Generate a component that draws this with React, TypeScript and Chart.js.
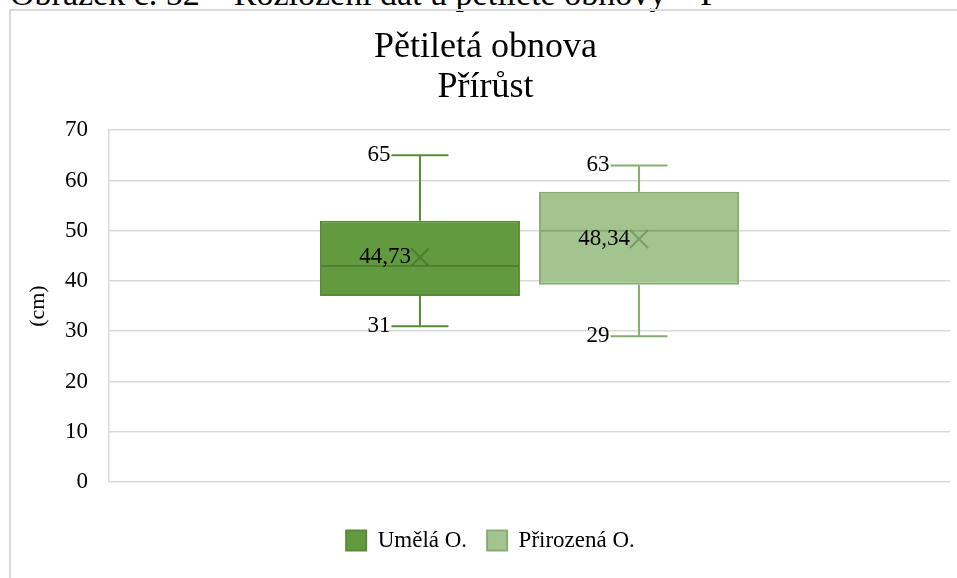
import React, { useEffect, useRef } from "react";
import { Chart, registerables } from "chart.js";

Chart.register(...registerables);

const headerText = "Obrázek č. 52 – Rozložení dat u pětileté obnovy – P";
const titleLines = ["Pětiletá obnova", "Přírůst"];
const categories = [""];
const seriesNames = ["Umělá O.", "Přirozená O."];
const mins = [31, 29];
const q1s = [37, 39.25];
const medians = [43, 50];
const q3s = [52, 57.75];
const maxs = [65, 63];
const means = [44.73, 48.34];
const meanLabels = ["44,73", "48,34"];
const minLabels = ["31", "29"];
const maxLabels = ["65", "63"];
const yAxisTitle = "(cm)";
const yMin = 0;
const yMax = 70;
const yStep = 10;

const fills = ["#629B3F", "#A3C48F"];
const borders = ["#588A38", "#88AD72"];
const medianColors = ["#4F7F33", "#86AB70"];
const meanColors = ["rgba(70,120,45,0.75)", "rgba(110,150,90,0.8)"];

const FONT = "'Liberation Serif', 'Times New Roman', serif";

const boxPlugin = {
  id: "boxExtras",
  afterLayout(chart: any) {
    const lg = chart.legend;
    if (lg) {
      lg.left += 5;
      lg.right += 5;
    }
  },
  afterDatasetsDraw(chart: any) {
    const ctx = chart.ctx;
    const y = chart.scales.y;
    ctx.save();
    chart.data.datasets.forEach((_ds: any, i: number) => {
      const meta = chart.getDatasetMeta(i);
      meta.data.forEach((bar: any) => {
        const cx = bar.x;
        const w = bar.width;
        const left = cx - w / 2;
        const right = cx + w / 2;
        const capHalf = 28.5;
        const yMaxP = y.getPixelForValue(maxs[i]);
        const yMinP = y.getPixelForValue(mins[i]);
        const yQ1 = y.getPixelForValue(q1s[i]);
        const yQ3 = y.getPixelForValue(q3s[i]);
        const yMed = y.getPixelForValue(medians[i]);
        const yMean = y.getPixelForValue(means[i]);
        ctx.strokeStyle = borders[i];
        ctx.lineWidth = 2;
        ctx.beginPath();
        ctx.moveTo(cx, yQ3);
        ctx.lineTo(cx, yMaxP);
        ctx.moveTo(cx - capHalf, yMaxP);
        ctx.lineTo(cx + capHalf, yMaxP);
        ctx.moveTo(cx, yQ1);
        ctx.lineTo(cx, yMinP);
        ctx.moveTo(cx - capHalf, yMinP);
        ctx.lineTo(cx + capHalf, yMinP);
        ctx.stroke();
        // median
        ctx.strokeStyle = medianColors[i];
        ctx.beginPath();
        ctx.moveTo(left + 1, yMed);
        ctx.lineTo(right - 1, yMed);
        ctx.stroke();
        // mean marker
        const m = 9;
        ctx.strokeStyle = meanColors[i];
        ctx.lineWidth = 2;
        ctx.beginPath();
        ctx.moveTo(cx - m, yMean - m);
        ctx.lineTo(cx + m, yMean + m);
        ctx.moveTo(cx - m, yMean + m);
        ctx.lineTo(cx + m, yMean - m);
        ctx.stroke();
        // labels
        ctx.fillStyle = "#000";
        ctx.font = `23px ${FONT}`;
        ctx.textAlign = "right";
        ctx.textBaseline = "middle";
        ctx.fillText(maxLabels[i], cx - capHalf - 1, yMaxP);
        ctx.fillText(minLabels[i], cx - capHalf - 1, yMinP);
        ctx.fillText(meanLabels[i], cx - m, yMean);
      });
    });
    ctx.restore();
  },
};

export default function App() {
  const ref = useRef<HTMLCanvasElement | null>(null);
  useEffect(() => {
    if (!ref.current) return;
    Chart.defaults.font.family = FONT;
    const chart = new Chart(ref.current, {
      type: "bar",
      data: {
        labels: categories,
        datasets: seriesNames.map((name, i) => ({
          label: name,
          data: [[q1s[i], q3s[i]]] as any,
          backgroundColor: fills[i],
          borderColor: borders[i],
          borderWidth: 2,
          borderSkipped: false,
          categoryPercentage: 0.521,
          barPercentage: 0.913,
        })),
      },
      options: {
        responsive: false,
        animation: false,
        events: [],
        layout: { padding: { left: 10, right: 8, top: 10, bottom: 16 } },
        plugins: {
          tooltip: { enabled: false },
          title: {
            display: true,
            text: titleLines,
            color: "#000",
            font: { size: 36, family: FONT, weight: "normal", lineHeight: 1.1 },
            padding: { top: 7, bottom: 23 },
          },
          legend: {
            position: "bottom",
            labels: {
              boxWidth: 20,
              boxHeight: 20,
              padding: 20,
              color: "#000",
              font: { size: 23, family: FONT },
            },
          },
        },
        scales: {
          x: {
            display: true,
            ticks: { display: false },
            grid: { display: false },
            border: { display: false },
            afterFit: (s: any) => {
              s.height = 27;
            },
          },
          y: {
            min: yMin,
            max: yMax,
            ticks: {
              stepSize: yStep,
              color: "#000",
              padding: 21,
              font: { size: 23, family: FONT },
            },
            grid: { color: "#D9D9D9", lineWidth: 1.5, drawTicks: false },
            border: { display: true, color: "#D9D9D9", width: 1.5 },
            title: {
              display: true,
              text: yAxisTitle,
              color: "#000",
              font: { size: 22, family: FONT },
            },
            afterFit: (s: any) => {
              s.width = 88;
            },
          },
        },
      },
      plugins: [boxPlugin],
    } as any);
    return () => chart.destroy();
  }, []);

  return (
    <div style={{ position: "fixed", left: 0, top: 0, width: 957, height: 578, overflow: "hidden", background: "#fff" }}>
      <div
        style={{
          position: "absolute",
          left: 10,
          top: -23.5,
          fontFamily: FONT,
          fontSize: 34,
          lineHeight: "34px",
          whiteSpace: "nowrap",
          color: "#000",
        }}
      >
        {headerText}
      </div>
      <div
        style={{
          position: "absolute",
          left: 9,
          top: 9,
          width: 960,
          height: 600,
          border: "2px solid #D9D9D9",
          boxSizing: "border-box",
        }}
      />
      <canvas
        ref={ref}
        width={947}
        height={567}
        style={{ position: "absolute", left: 11, top: 11, width: 947, height: 567 }}
      />
    </div>
  );
}
